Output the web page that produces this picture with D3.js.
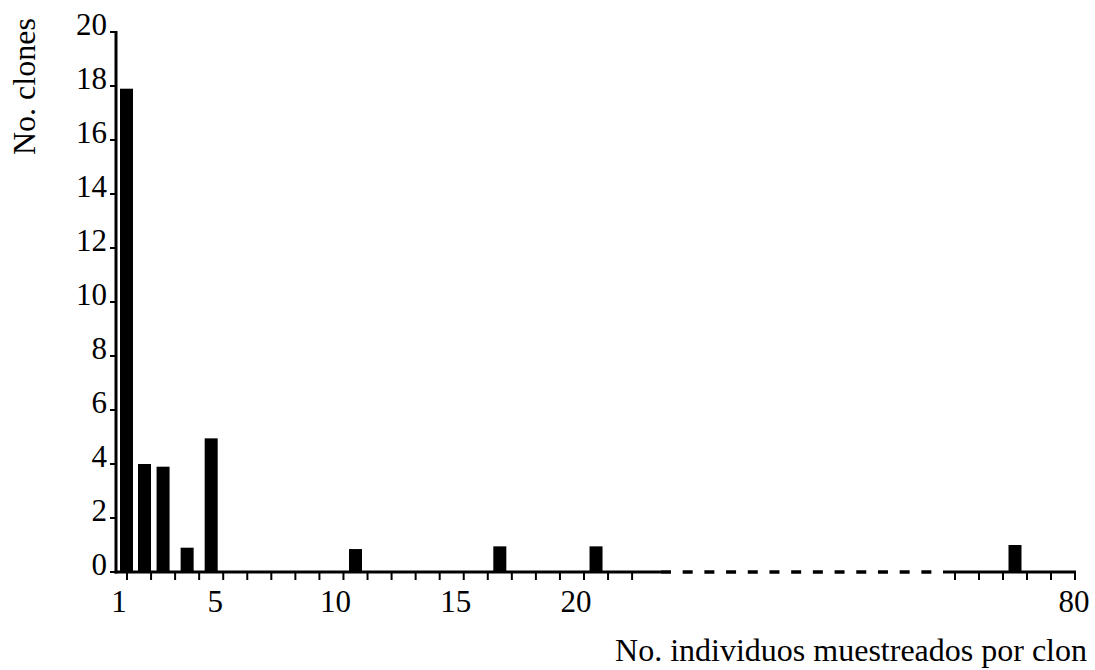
<!DOCTYPE html>
<html>
<head>
<meta charset="utf-8">
<script src="https://cdn.jsdelivr.net/npm/d3@7"></script>
<style>
    body { margin: 0; background: #fff; }
</style>
</head>
<body>
<div id="chart"></div>
<script>
// bins (individuals sampled per clone) and number of clones in each
const binValues = [1, 2, 3, 4, 5, 11, 17, 21, 78];
const cloneCounts = [17.9, 4.0, 3.9, 0.9, 4.95, 0.85, 0.95, 0.95, 1.0];

const yTickValues = [0, 2, 4, 6, 8, 10, 12, 14, 16, 18, 20];
const xTicksLeft = d3.range(1, 23);
const xTicksRight = d3.range(75, 81);
const xLabelsLeft = [1, 5, 10, 15, 20];
const xLabelsRight = [80];

const width = 1095;
const height = 670;
const axisX = 116;
const barWidth = 13;
const fontFamily = "'Liberation Serif', 'Times New Roman', Times, 'DejaVu Serif', serif";

const svg = d3.select('#chart').append('svg')
    .attr('width', width)
    .attr('height', height)
    .attr('font-family', fontFamily);

const y = d3.scaleLinear()
    .domain([0, 20])
    .range([572, 32]);

// broken x axis: two linear pieces
const xLeft = d3.scaleLinear()
    .domain([1, 20])
    .range([127, 584]);

const xRight = d3.scaleLinear()
    .domain([75, 80])
    .range([955, 1075]);

const breakStart = 23.2;
const breakEnd = 74.5;

function xPos(v) {
    return v <= breakStart ? xLeft(v) : xRight(v);
}

// bars sit in the bin (v-1, v]; keep them off the axis and apart
const bars = [];
let prevRight = axisX;
binValues.forEach(function (v, i) {
    let left = xPos(v - 0.5) - barWidth / 2;
    left = Math.max(left, prevRight + (i == 0 ? 4 : 5));
    bars.push({ x: left, value: cloneCounts[i] });
    prevRight = left + barWidth;
});

svg.append('g').selectAll('rect')
    .data(bars)
    .enter().append('rect')
    .attr('x', d => d.x)
    .attr('y', d => y(d.value))
    .attr('width', barWidth)
    .attr('height', d => y(0) - y(d.value))
    .attr('fill', '#000');

// y axis
svg.append('line')
    .attr('x1', axisX).attr('x2', axisX)
    .attr('y1', y(20) - 1).attr('y2', y(0) + 1.5)
    .attr('stroke', '#000').attr('stroke-width', 3);

svg.append('g').selectAll('line')
    .data(yTickValues)
    .enter().append('line')
    .attr('x1', axisX - 6).attr('x2', axisX)
    .attr('y1', d => y(d)).attr('y2', d => y(d))
    .attr('stroke', '#000').attr('stroke-width', 2);

svg.append('g').selectAll('text')
    .data(yTickValues)
    .enter().append('text')
    .attr('x', axisX - 9)
    .attr('y', d => y(d) + 3)
    .attr('text-anchor', 'end')
    .attr('font-size', 31)
    .text(d => d);

// x axis: solid, dashed break, solid
svg.append('line')
    .attr('x1', axisX - 1.5).attr('x2', xLeft(breakStart))
    .attr('y1', y(0)).attr('y2', y(0))
    .attr('stroke', '#000').attr('stroke-width', 3);

svg.append('line')
    .attr('x1', xLeft(breakStart)).attr('x2', xRight(breakEnd))
    .attr('y1', y(0)).attr('y2', y(0))
    .attr('stroke', '#000').attr('stroke-width', 3.5)
    .attr('stroke-dasharray', '10 11.7');

svg.append('line')
    .attr('x1', xRight(breakEnd)).attr('x2', xRight(80) + 1)
    .attr('y1', y(0)).attr('y2', y(0))
    .attr('stroke', '#000').attr('stroke-width', 3);

const xTickData = xTicksLeft.map(v => xLeft(v)).concat(xTicksRight.map(v => xRight(v)));

svg.append('g').selectAll('line')
    .data(xTickData)
    .enter().append('line')
    .attr('x1', d => d).attr('x2', d => d)
    .attr('y1', y(0)).attr('y2', y(0) + 8)
    .attr('stroke', '#000').attr('stroke-width', 2);

svg.append('g').selectAll('text')
    .data(xLabelsLeft)
    .enter().append('text')
    .attr('x', d => xLeft(d) - 8)
    .attr('y', 612)
    .attr('text-anchor', 'middle')
    .attr('font-size', 31)
    .text(d => d);

svg.append('g').selectAll('text')
    .data(xLabelsRight)
    .enter().append('text')
    .attr('x', d => xRight(d) - 1)
    .attr('y', 612)
    .attr('text-anchor', 'middle')
    .attr('font-size', 31)
    .text(d => d);

// axis titles
svg.append('text')
    .attr('x', 1087)
    .attr('y', 661)
    .attr('text-anchor', 'end')
    .attr('font-size', 32)
    .text('No. individuos muestreados por clon');

svg.append('text')
    .attr('transform', 'translate(35, 155) rotate(-90)')
    .attr('text-anchor', 'start')
    .attr('font-size', 32)
    .text('No. clones');
</script>
</body>
</html>
